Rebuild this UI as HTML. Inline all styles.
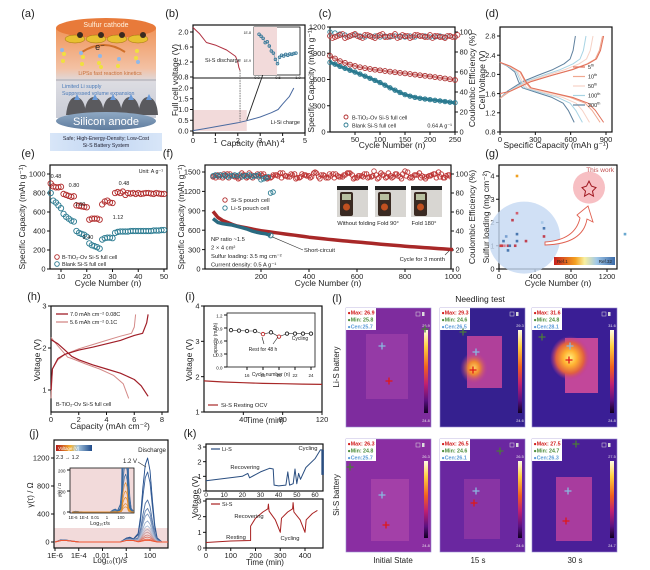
<!DOCTYPE html>
<html><head><meta charset="utf-8"><style>
html,body{margin:0;padding:0;background:#fff;}
svg{display:block;font-family:"Liberation Sans",Arial,sans-serif;}
</style></head><body>
<svg id="fig" width="650" height="570" viewBox="0 0 650 570" xmlns="http://www.w3.org/2000/svg">
<defs>
<linearGradient id="gA" x1="0" y1="0" x2="0" y2="1"><stop offset="0" stop-color="#f0955a"/><stop offset="0.45" stop-color="#f3c1a4"/><stop offset="0.6" stop-color="#dcdce2"/><stop offset="1" stop-color="#c9ccd6"/></linearGradient>
<linearGradient id="gAn" x1="0" y1="0" x2="0" y2="1"><stop offset="0" stop-color="#8fa9c4"/><stop offset="1" stop-color="#5f7c9e"/></linearGradient>
<linearGradient id="gCap" x1="0" y1="0" x2="1" y2="0"><stop offset="0" stop-color="#d8e6f8"/><stop offset="0.5" stop-color="#c2d6f2"/><stop offset="1" stop-color="#d8e6f8"/></linearGradient>
<linearGradient id="gBar" x1="0" y1="0" x2="0" y2="1"><stop offset="0" stop-color="#fffbe6"/><stop offset="0.2" stop-color="#ffd040"/><stop offset="0.45" stop-color="#f06020"/><stop offset="0.65" stop-color="#c02070"/><stop offset="0.85" stop-color="#5a1080"/><stop offset="1" stop-color="#100020"/></linearGradient>
<linearGradient id="gRef" x1="0" y1="0" x2="1" y2="0"><stop offset="0" stop-color="#c8201e"/><stop offset="0.35" stop-color="#f4a020"/><stop offset="0.5" stop-color="#f8f0a0"/><stop offset="0.7" stop-color="#a0c8e8"/><stop offset="1" stop-color="#3a6aa8"/></linearGradient>
<linearGradient id="gV" x1="0" y1="0" x2="1" y2="0"><stop offset="0" stop-color="#b01818"/><stop offset="0.4" stop-color="#f4b030"/><stop offset="0.6" stop-color="#a8c8e0"/><stop offset="1" stop-color="#1e4a8a"/></linearGradient>
<radialGradient id="hot1"><stop offset="0" stop-color="#ffd060"/><stop offset="0.4" stop-color="#f08a30"/><stop offset="1" stop-color="#c03a90" stop-opacity="0"/></radialGradient>
<radialGradient id="hot2"><stop offset="0" stop-color="#fff080"/><stop offset="0.35" stop-color="#ffb030"/><stop offset="0.7" stop-color="#e06040"/><stop offset="1" stop-color="#c03a90" stop-opacity="0"/></radialGradient>
<clipPath id="clipJin"><rect x="70" y="468" width="64" height="45"/></clipPath>
<clipPath id="clipBin"><rect x="254" y="27" width="46" height="48"/></clipPath>
<clipPath id="clipF"><rect x="205" y="165" width="246" height="104"/></clipPath>
</defs>
</svg>
<script>
// ---------- DATA ----------
const bDisCap=[0,0.3,0.6,1.0,1.5,1.9,2.0,2.05,2.1];
const bDisV=[2.12,1.95,1.72,1.65,1.52,1.35,1.2,1.05,0.98];
const bChCap=[0,0.5,1,2,2.4,3,3.5,3.8,4,4.3,4.5];
const bChV=[0.02,0.1,0.2,0.38,0.48,0.65,0.85,1.0,1.25,1.6,2.0];
const bInX=[0.05,0.1,0.15,0.2,0.25,0.3,0.35,0.4,0.45,0.5,0.55,0.6,0.65,0.7,0.75,0.8,0.85,0.9,0.95];
const bInY=[0.9,0.85,0.8,0.7,0.72,0.62,0.5,0.45,0.3,0.2,0.35,0.4,0.38,0.42,0.4,0.43,0.42,0.44,0.45];
const cCycles=[0,10,20,30,40,50,60,70,80,90,100,110,120,130,140,150,160,170,180,190,200,210,220,230,240,250];
const cRedCap=[870,840,810,790,770,755,740,730,720,712,705,697,690,683,676,670,663,656,649,642,635,628,620,612,603,595];
const cBlueCap=[795,775,750,728,706,685,662,638,614,590,565,535,505,478,452,427,410,396,385,377,370,362,355,348,341,335];
const cRedCE=[96,95,97,94,96,98,95,97,96,94,97,95,96,98,95,96,94,97,96,95,97,96,95,94,96,95];
const cBlueCE=[100,99,98,97,96,97,96,95,96,96,95,96,95,96,96,95,96,95,96,96,95,95,96,95,96,95];
const dLabels=['5th','10th','50th','100th','200th'];
const dDisCap=[880,850,760,700,630];
const dChCap=[880,870,790,730,640];
const dShapeF=[0,0.1,0.2,0.25,0.3,0.5,0.7,0.85,0.92,1.0];
const dShapeDisV=[2.25,2.17,2.05,1.85,1.72,1.62,1.52,1.4,1.25,1.0];
const dShapeChF=[0,0.1,0.3,0.5,0.7,0.85,0.93,0.97,1.0];
const dShapeChV=[1.5,1.65,1.85,1.98,2.1,2.22,2.32,2.5,2.8];
const eCycles=[6,7,8,9,10,11,12,13,14,15,16,17,18,19,20,21,22,23,24,25,26,27,28,29,30,31,32,33,34,35,36,37,38,39,40,41,42,43,44,45,46,47,48,49,50];
const eRed=[900,870,860,860,865,790,780,770,760,765,670,665,660,655,650,520,530,530,530,520,680,710,720,700,695,800,810,800,815,780,800,795,800,790,800,790,795,800,800,795,790,800,795,790,790];
const eBlue=[800,720,700,670,640,580,550,530,510,500,400,380,370,360,340,270,250,240,230,215,310,325,330,330,325,380,390,395,395,395,395,400,400,400,400,400,400,400,400,400,405,405,405,410,410];
const eRates=['0.48','0.80','1.60','2.40','1.12','0.48'];
const fCycles=[0,20,40,60,80,100,120,140,160,180,200,220,240,260,280,300,320,340,360,380,400,420,440,460,480,500,520,540,560,580,600,620,640,660,680,700,720,740,760,780,800,820,840,860,880,900,920,940,960,980,1000];
const fRedCap=[890,800,750,720,690,665,650,635,620,605,592,582,572,562,552,542,532,522,512,502,492,484,476,468,460,452,445,438,431,424,418,411,404,397,390,383,377,371,365,359,353,347,341,336,331,326,321,316,311,306,300];
const fRedCE=[97,99,96,100,98,97,101,96,99,98,100,97,96,99,101,98,97,100,96,99,98,101,97,99,96,100,98,97,101,99,96,98,100,97,99,101,96,98,100,97,103,96,99,101,97,98,100,102,96,99,98];
const fBlueCycles=[0,20,40,60,80,100,120,140,160,180,200,220,240];
const fBlueCap=[780,720,700,690,680,660,640,620,590,570,555,545,520];
const fBlueCE=[98,98,98,97,98,98,97,98,97,98,94,96,80];
const gCyc=[50,80,100,120,150,200,200,200,300,500,500,480,200,1400,30,60,100,180,20];
const gLoad=[1.2,1.4,1.0,1.0,2.1,2.4,1.5,1.2,1.2,1.75,1.4,2.0,4.0,1.5,1.0,1.0,0.8,1.0,1.0];
const gCol=['#4a78b0','#7aa0d0','#c04050','#4a78b0','#c04050','#d06070','#4a78b0','#4a78b0','#c04050','#4a78b0','#c04050','#a8c8e8','#f0a020','#6aa8d0','#c04050','#e08090','#4a78b0','#c04050','#d04040'];
const h7DisCap=[0,0.5,1,1.5,2,3,4,5,6,6.5,7];
const h7DisV=[2.2,2.1,1.95,1.8,1.72,1.6,1.5,1.4,1.25,1.1,0.85];
const h7ChCap=[0,0.1,0.5,1,2,3,4,5,6,6.6,6.9,7];
const h7ChV=[1.0,1.5,1.75,1.85,1.95,2.02,2.1,2.18,2.3,2.35,2.6,2.8];
const h5DisCap=[0,0.5,1.2,1.5,2.5,3.5,4.5,5.2,5.6];
const h5DisV=[2.25,2.05,1.78,1.75,1.62,1.5,1.35,1.15,0.8];
const h5ChCap=[0,0.1,0.5,1,2,3,4,5,5.8,6,6.1];
const h5ChV=[0.8,1.5,1.72,1.85,1.98,2.08,2.18,2.28,2.35,2.5,2.8];
const iTime=[0,20,40,60,80,100,120];
const iOCV=[1.88,1.85,1.83,1.81,1.8,1.79,1.78];
const iCyc=[14,15,16,17,18,19,20,21,22,23,24];
const iCap=[0.85,0.84,0.83,0.83,0.76,0.8,0.7,0.77,0.77,0.77,0.77];
const iRed=[false,false,false,false,true,false,true,false,false,false,false];
const jLogT=[-6,-5.5,-5,-4,-3,-2,-1,-0.5,0,0.3,0.6,1.0,1.2,1.4,1.6,1.8,2.0,2.2,2.4,2.6,3,3.5];
const jProfile=[0,0.01,0.005,0,0,0,0,0,0.03,0.04,0.02,0.1,0.3,0.65,0.92,1,0.85,0.5,0.2,0.05,0,0];
const jHeights=[1200,1000,600,480,400,300,230,180,140,100,70,40,25];
const kLiT=[0,10,20,23,24,30,35,37,37.5,40,44,45,46,48,49,50,51,52,55,60,63,64];
const kLiV=[0.7,0.85,1.0,1.2,0.9,1.3,1.55,1.5,0.4,0.35,0.4,1.3,0.4,0.5,1.5,0.5,1.2,0.8,1.6,2.2,2.8,2.8];
const kSiT=[0,50,100,180,180,200,230,250,252,255,280,300,305,330,350,352,355,380,400,405,430,450];
const kSiV=[0.35,0.4,0.45,0.48,1.4,1.9,2.3,2.5,2.8,2.35,1.8,1.0,1.9,2.3,2.5,2.9,2.3,1.8,1.0,1.8,2.2,2.4];
const lMax=['26.9','29.3','31.6','26.3','26.5','27.5'];
const lMin=['25.8','24.6','24.8','24.8','24.6','24.7'];
const lCen=['25.7','26.5','28.1','25.7','26.1','26.3'];
const lBot=['24.8','24.6','24.8','24.8','24.6','24.7'];

// ---------- HELPERS ----------
const NS='http://www.w3.org/2000/svg';
const svg=document.getElementById('fig');
function E(tag,a,name,p){const el=document.createElementNS(NS,tag);for(const k in a)el.setAttribute(k,a[k]);


(p||svg).appendChild(el);return el;}
function T(x,y,s,size,name,o){o=o||{};const el=E('text',{x:x,y:y,'font-size':size,fill:o.fill||'#222','text-anchor':o.anchor||'middle','font-weight':o.bold?'bold':'normal'},name,o.p);
if(o.html)el.innerHTML=s;else el.textContent=s;if(o.rot)el.setAttribute('transform','rotate('+o.rot+' '+x+' '+y+')');return el;}
function lin(d0,d1,r0,r1){return v=>r0+(v-d0)*(r1-r0)/(d1-d0);}
function line(xs,ys,sx,sy,stroke,w,name,extra){let d='';for(let i=0;i<xs.length;i++)d+=(i?'L':'M')+sx(xs[i]).toFixed(1)+','+sy(ys[i]).toFixed(1);
const a={d:d,fill:'none',stroke:stroke,'stroke-width':w,'stroke-linejoin':'round'};if(extra)Object.assign(a,extra);return E('path',a,name);}
function frame(x0,y0,x1,y1,name){return E('rect',{x:x0,y:y0,width:x1-x0,height:y1-y0,fill:'none',stroke:'#111','stroke-width':1.2},name);}
function yAx(sy,vals,labels,x,name,right,size){size=size||7.5;vals.forEach((v,i)=>{const y=sy(v);
E('line',{x1:x,x2:right?x+3:x-3,y1:y,y2:y,stroke:'#111','stroke-width':1},name+'-tick');
T(right?x+4.5:x-4.5,y+2.7,labels[i],size,name+'-label',{anchor:right?'start':'end'});});}
function xAx(sx,vals,labels,y,name,size){size=size||7.5;vals.forEach((v,i)=>{const x=sx(v);
E('line',{x1:x,x2:x,y1:y,y2:y+3,stroke:'#111','stroke-width':1},name+'-tick');
T(x,y+10,labels[i],size,name+'-label');});}
function circ(x,y,r,stroke,name,fill,p){return E('circle',{cx:x,cy:y,r:r,fill:fill||'none',stroke:stroke,'stroke-width':0.9},name,p);}

[['(a)',28,17],['(b)',172,17],['(c)',325,17],['(d)',492,17],['(e)',28,157],['(f)',168,157],['(g)',492,157],['(h)',34,300],['(i)',190,300],['(j)',34,437],['(k)',190,437],['(l)',337,302]].forEach(p=>{
T(p[1],p[2],p[0],11,'panel-label');});

// ---------- (a) ----------
E('rect',{x:56,y:28,width:100,height:90,fill:'url(#gA)'},'battery-body');
E('ellipse',{cx:106,cy:28,rx:50,ry:10,fill:'#e87a3a'},'sulfur-cathode-disc');
T(106,27,'Sulfur cathode',7,'sulfur-cathode-label',{fill:'#fff3e0'});
for(let i=0;i<4;i++){E('ellipse',{cx:75+i*21,cy:39,rx:10,ry:4,fill:'#e8c030',stroke:'#a07010','stroke-width':0.5},'sulfur-particle');
E('circle',{cx:80+i*21,cy:35,r:3,fill:'#3a2a20'},'carbon-host');}
E('path',{d:'M82,52 Q104,38 125,52',fill:'none',stroke:'#d0702a','stroke-width':2},'electron-arrow');
T(100,50,'e⁻',9,'electron-label',{fill:'#222'});
for(let i=0;i<14;i++){E('circle',{cx:62+((i*37)%92),cy:50+((i*13)%18),r:2,fill:i%3?'#f0e040':'#90b8e8'},'lips-molecule');}
T(110,75,'LiPSs fast reaction kinetics',5.3,'kinetics-label',{fill:'#c8703a'});
E('line',{x1:56,y1:80,x2:156,y2:80,stroke:'#b8b8c0','stroke-width':1.5},'separator');
T(62,88,'Limited Li supply',5.3,'li-supply-label',{fill:'#4a7ab8',anchor:'start'});
T(62,95,'Suppressed volume expansion',5.3,'volume-label',{fill:'#4a7ab8',anchor:'start'});
for(let i=0;i<5;i++){E('path',{d:'M'+(66+i*18)+',115 Q'+(68+i*18)+',97 '+(76+i*18)+',97 Q'+(85+i*18)+',98 '+(86+i*18)+',115Z',fill:'#5a5a5e'},'silicon-dome');
E('path',{d:'M'+(74+i*18)+',100 l3,-6 l3,6z',fill:'#6a9ad8'},'li-arrow');}
E('ellipse',{cx:106,cy:121,rx:50,ry:9,fill:'url(#gAn)'},'silicon-anode-disc');
T(106,125,'Silicon anode',11,'silicon-anode-label',{fill:'#fff'});
E('rect',{x:50,y:133,width:112,height:18,fill:'url(#gCap)'},'caption-box');
T(106,140,'Safe; High-Energy-Density; Low-Cost',5.2,'caption-line1',{fill:'#223'});
T(106,147,'Si-S Battery System',5.2,'caption-line2',{fill:'#223'});

// ---------- (b) ----------
(function(){
const sx=lin(0,5,193,305), syT=lin(0.8,2.0,77,32), syB=lin(0,2.0,131,88);
E('rect',{x:193,y:110,width:sx(2.4)-193,height:21,fill:'#f2dada'},'b-shaded-region');
frame(193,25,305,133,'b-frame');
E('line',{x1:193,x2:305,y1:78,y2:78,stroke:'#111','stroke-width':1},'b-divider');
yAx(syT,[0.8,1.2,1.6,2.0],['0.8','1.2','1.6','2.0'],193,'b-top-y');
yAx(syB,[0,0.5,1.0,1.5,2.0],['0.0','0.5','1.0','1.5','2.0'],193,'b-bottom-y');
xAx(sx,[0,1,2,3,4,5],['0','1','2','3','4','5'],133,'b-x');
line(bDisCap,bDisV,sx,syT,'#b03040',1,'b-si-s-discharge');
line(bChCap,bChV,sx,syB,'#4a6aa0',1,'b-li-si-charge');
E('line',{x1:sx(2.1),x2:sx(2.1),y1:syT(0.98),y2:syB(0.45),stroke:'#555','stroke-width':0.8,'stroke-dasharray':'1.5,1'},'b-dashed-line');
E('path',{d:'M'+sx(2.4)+','+syB(0.5)+' L268,60',stroke:'#222','stroke-width':0.9,fill:'none'},'b-arrow');
E('path',{d:'M268,58 l-3,4 l4,1z',fill:'#222'},'b-arrowhead');
T(205,62,'Si-S discharge',5.5,'b-discharge-label',{anchor:'start'});
T(300,124,'Li-Si charge',5.5,'b-charge-label',{anchor:'end'});
T(250,146,'Capacity (mAh)',8.5,'b-x-title');
T(178,80,'Full cell voltage (V)',8.5,'b-y-title',{rot:-90});
E('rect',{x:254,y:27,width:46,height:48,fill:'#fff',stroke:'#111','stroke-width':0.8},'b-inset-frame');
E('rect',{x:254,y:27,width:23,height:48,fill:'#f2dada'},'b-inset-shade');
const ix=lin(0,1,257,298), iy=lin(0,1,72,30);
const g=E('g',{'clip-path':'url(#clipBin)'},'b-inset-points');
bInX.forEach((v,i)=>{circ(ix(v),iy(bInY[i]),1.3,'#3a7a9a','b-inset-point',null,g);});
line(bInX,bInY,ix,iy,'#3a7a9a',0.5,'b-inset-line');
T(257,79,'0.0',4,'b-inset-xlabel');T(278,79,'0.5',4,'b-inset-xlabel');T(298,79,'1.0',4,'b-inset-xlabel');
T(251,34,'1E-8',3.5,'b-inset-ylabel',{anchor:'end'});T(251,62,'1E-9',3.5,'b-inset-ylabel',{anchor:'end'});
})();

// ---------- (c) ----------
(function(){
const sx=lin(0,250,330,455), sy=lin(0,1200,132,27), sr=lin(0,100,132,32);
frame(330,27,455,132,'c-frame');
yAx(sy,[0,300,600,900,1200],['0','300','600','900','1200'],330,'c-left-y');
yAx(sr,[0,20,40,60,80,100],['0','20','40','60','80','100'],455,'c-right-y',true);
xAx(sx,[50,100,150,200,250],['50','100','150','200','250'],132,'c-x');
cCycles.forEach((c,i)=>{circ(sx(c),sr(cBlueCE[i]),2.2,'#3a8aa0','c-blue-ce-point');});
cCycles.forEach((c,i)=>{circ(sx(c),sr(cRedCE[i]),2.4,'#b02a2a','c-red-ce-point');circ(sx(c)+2.5,sr(cRedCE[(i+3)%26]),2.4,'#c04040','c-red-ce-point');});
line(cCycles,cBlueCap,sx,sy,'#2a7a90',3,'c-blue-capacity-line');
cCycles.forEach((c,i)=>{circ(sx(c),sy(cBlueCap[i]),2.2,'#2a7a90','c-blue-capacity-point');});
line(cCycles,cRedCap,sx,sy,'#d08080',2,'c-red-capacity-line');
cCycles.forEach((c,i)=>{circ(sx(c),sy(cRedCap[i]),2.4,'#a82828','c-red-capacity-point');});
circ(346,117,2,'#b02a2a','c-legend-red-marker');T(352,119.5,'B-TiO₂-Ov Si-S full cell',5.5,'c-legend-red',{anchor:'start'});
circ(346,125,2,'#2a7a90','c-legend-blue-marker');T(352,127.5,'Blank Si-S full cell',5.5,'c-legend-blue',{anchor:'start'});
T(452,127.5,'0.64 A g⁻¹',5.5,'c-rate-label',{anchor:'end'});
T(392,148,'Cycle Number (n)',8.5,'c-x-title');
T(314,80,'Specific Capacity (mAh g⁻¹)',8.5,'c-y-title',{rot:-90});
T(475,80,'Coulombic Efficiency (%)',8.5,'c-y2-title',{rot:-90});
})();

// ---------- (d) ----------
(function(){
const sx=lin(0,900,500,606), sy=lin(0.8,2.8,132,36);
frame(500,27,612,132,'d-frame');
yAx(sy,[0.8,1.2,1.6,2.0,2.4,2.8],['0.8','1.2','1.6','2.0','2.4','2.8'],500,'d-y');
xAx(sx,[0,300,600,900],['0','300','600','900'],132,'d-x');
const cols=['#e0705a','#f0a890','#f6d2c6','#a8d4e4','#5f819e'];
for(let k=4;k>=0;k--){
line(dShapeF.map(f=>f*dDisCap[k]),dShapeDisV,sx,sy,cols[k],1,'d-discharge-'+dLabels[k]);
line(dShapeChF.map(f=>f*dChCap[k]),dShapeChV.map(v=>k===0&&v<1.6?1.6:v),sx,sy,cols[k],1,'d-charge-'+dLabels[k]);}
dLabels.forEach((l,i)=>{const y=67+i*9.5;E('line',{x1:573,x2:585,y1:y,y2:y,stroke:cols[i],'stroke-width':1.2},'d-legend-line');
T(588,y+2,l.replace(/th$/,'')+'<tspan dy="-2.5" font-size="3.8">th</tspan>',5.5,'d-legend-label',{anchor:'start',html:true});});
T(556,148,'Specific Capacity (mAh g⁻¹)',8.5,'d-x-title');
T(485,80,'Cell Voltage (V)',8.5,'d-y-title',{rot:-90});
})();

// ---------- (e) ----------
(function(){
const sx=lin(10,50,61,164), sy=lin(0,1000,269,174);
frame(50,165,167,269,'e-frame');
yAx(sy,[0,200,400,600,800,1000],['0','200','400','600','800','1000'],50,'e-y');
xAx(sx,[10,20,30,40,50],['10','20','30','40','50'],269,'e-x');
eCycles.forEach((c,i)=>{circ(sx(c),sy(eRed[i]),2.7,'#b02a2a','e-red-point');});
eCycles.forEach((c,i)=>{circ(sx(c),sy(eBlue[i]),2.7,'#2a7a90','e-blue-point');});
const rp=[[56,178],[74,187],[80,206],[88,239],[118,219],[124,185]];
eRates.forEach((r,i)=>{T(rp[i][0],rp[i][1],r,5.5,'e-rate-label');});
T(163,173,'Unit: A g⁻¹',5.3,'e-unit-label',{anchor:'end'});
circ(57,257,2.3,'#b02a2a','e-legend-red-marker');T(62,259,'B-TiO₂-Ov Si-S full cell',5.5,'e-legend-red',{anchor:'start'});
circ(57,264,2.3,'#2a7a90','e-legend-blue-marker');T(62,266,'Blank Si-S full cell',5.5,'e-legend-blue',{anchor:'start'});
T(108,286,'Cycle Number (n)',8.5,'e-x-title');
T(25,217,'Specific Capacity (mAh g⁻¹)',8.5,'e-y-title',{rot:-90});
})();

// ---------- (f) ----------
(function(){
const sx=lin(0,1000,213,453), sy=lin(0,1500,269,172), sr=lin(0,100,269,174);
frame(205,165,451,269,'f-frame');
yAx(sy,[0,300,600,900,1200,1500],['0','300','600','900','1200','1500'],205,'f-left-y');
yAx(sr,[0,20,40,60,80,100],['0','20','40','60','80','100'],451,'f-right-y',true);
xAx(sx,[200,400,600,800,1000],['200','400','600','800','1000'],269,'f-x');
const g=E('g',{'clip-path':'url(#clipF)'},'f-ce-points');
fCycles.forEach((c,i)=>{circ(sx(c),sr(fRedCE[i]),2.3,'#b82a2a','f-red-ce-point',null,g);circ(sx(c)+2.6,sr(fRedCE[(i+7)%51]),2.3,'#c03a3a','f-red-ce-point',null,g);circ(sx(c)+1.3,sr(fRedCE[(i+19)%51]-1),2.3,'#c03a3a','f-red-ce-point',null,g);});
fBlueCycles.forEach((c,i)=>{circ(sx(c),sr(fBlueCE[i]),2.3,'#2a7a90','f-blue-ce-point',null,g);circ(sx(c)+2.5,sr(Math.min(fBlueCE[i]+1,99)),2.3,'#2a7a90','f-blue-ce-point',null,g);});
line(fCycles,fRedCap,sx,sy,'#a82828',3.5,'f-red-capacity-line');
line(fBlueCycles,fBlueCap,sx,sy,'#2a6a80',3.5,'f-blue-capacity-line');
circ(sx(240),sy(520),2.5,'#2a7a90','f-short-circuit-point');
E('line',{x1:sx(245),y1:sy(500),x2:303,y2:250,stroke:'#333','stroke-width':0.6},'f-short-circuit-leader');
T(304,252,'Short-circuit',5.8,'f-short-circuit-label',{anchor:'start'});
E('line',{x1:445,y1:255,x2:449,y2:251,stroke:'#333','stroke-width':0.6},'f-month-leader');
T(445,261,'Cycle for 3 month',5.8,'f-month-label',{anchor:'end'});
circ(225,200,2.2,'#b02a2a','f-legend-red-marker');T(231,202,'Si-S pouch cell',5.8,'f-legend-red',{anchor:'start'});
circ(225,208,2.2,'#2a7a90','f-legend-blue-marker');T(231,210,'Li-S pouch cell',5.8,'f-legend-blue',{anchor:'start'});
['NP ratio ~1.5','2 × 4 cm²','Sulfur loading: 3.5 mg cm⁻²','Current density: 0.5 A g⁻¹'].forEach((s,i)=>{T(211,241+i*8.5,s,5.8,'f-condition-label',{anchor:'start'});});
[[337,186],[375,186],[411,186]].forEach((p,i)=>{E('rect',{x:p[0],y:p[1],width:31,height:31,fill:'#d8d6d2'},'f-photo');
E('rect',{x:p[0],y:p[1],width:31,height:4,fill:'#222'},'f-photo-top');
E('rect',{x:p[0]+3,y:p[1]+6,width:13,height:24,rx:2,fill:'#3a2a22'},'f-multimeter');
E('rect',{x:p[0]+5,y:p[1]+8,width:9,height:6,fill:'#b8c0a0'},'f-multimeter-screen');
E('circle',{cx:p[0]+9.5,cy:p[1]+21,r:3.5,fill:'#c05020'},'f-multimeter-dial');});
T(368,225,'Without folding Fold 90°',5.8,'f-photo-label');T(424,225,'Fold 180°',5.8,'f-photo-label');
T(328,286,'Cycle Number (n)',8.5,'f-x-title');
T(184,217,'Specific Capacity (mAh g⁻¹)',8.5,'f-y-title',{rot:-90});
T(475,217,'Coulombic Efficiency (%)',8.5,'f-y2-title',{rot:-90});
})();

// ---------- (g) ----------
(function(){
const sx=lin(0,1200,499,607), sy=lin(0,4,269,176);
frame(499,165,617,269,'g-frame');
yAx(sy,[0,1,2,3,4],['0','1','2','3','4'],499,'g-y');
xAx(sx,[0,400,800,1200],['0','400','800','1200'],269,'g-x');
E('ellipse',{cx:sx(280),cy:sy(1.35),rx:36,ry:36,fill:'#c4d8f2',opacity:0.8},'g-literature-ellipse');
E('circle',{cx:sx(1000),cy:sy(3.5),r:16,fill:'#f6b8bc',opacity:0.9},'g-this-work-circle');
gCyc.forEach((c,i)=>{E('rect',{x:sx(c)-1.3,y:sy(gLoad[i])-1.3,width:2.6,height:2.6,fill:gCol[i]},'g-literature-point');});
E('path',{d:'M'+(sx(1000)-7)+','+sy(3.5)+' l4.5,-1.5 l2.5,-5 l2.5,5 l4.5,1.5 l-3.5,3.5 l1,5 l-4.5,-2.5 l-4.5,2.5 l1,-5z',fill:'none',stroke:'#a01820','stroke-width':1},'g-this-work-star');
E('path',{d:'M545,242 Q575,240 580,218 L577,215 L588,206 L593,222 L587,219 Q583,244 545,245Z',fill:'#fff',stroke:'#e06050','stroke-width':0.9},'g-arrow');
T(614,172,'This work',6.5,'g-this-work-label',{fill:'#c05050',anchor:'end'});
E('rect',{x:554,y:257,width:61,height:8,fill:'url(#gRef)'},'g-ref-colorbar');
T(557,263,'Ref.1',4.5,'g-ref1-label',{anchor:'start'});T(612,263,'Ref.32',4.5,'g-ref32-label',{anchor:'end'});
T(558,286,'Cycle Number (n)',8.5,'g-x-title');
T(489,217,'Sulfur loading (mg cm⁻²)',8.5,'g-y-title',{rot:-90});
})();

// ---------- (h) ----------
(function(){
const sx=lin(0,8,51,162), sy=lin(1,3,390,306);
frame(51,306,168,412,'h-frame');
yAx(sy,[1,2,3],['1','2','3'],51,'h-y');
xAx(sx,[0,2,4,6,8],['0','2','4','6','8'],412,'h-x');
line(h5DisCap,h5DisV,sx,sy,'#d48a88',1,'h-5.6-discharge');line(h5ChCap,h5ChV,sx,sy,'#d48a88',1,'h-5.6-charge');
line(h7DisCap,h7DisV,sx,sy,'#a01e28',1.2,'h-7.0-discharge');line(h7ChCap,h7ChV,sx,sy,'#a01e28',1.2,'h-7.0-charge');
E('line',{x1:56,x2:68,y1:314,y2:314,stroke:'#a01e28','stroke-width':1.3},'h-legend-line');T(70,316,'7.0 mAh cm⁻² 0.08C',5.5,'h-legend-label',{anchor:'start'});
E('line',{x1:56,x2:68,y1:322,y2:322,stroke:'#d48a88','stroke-width':1.3},'h-legend-line');T(70,324,'5.6 mAh cm⁻² 0.1C',5.5,'h-legend-label',{anchor:'start'});
T(56,406,'B-TiO₂-Ov Si-S full cell',5.5,'h-cell-label',{anchor:'start'});
T(110,429,'Capacity (mAh cm⁻²)',8.5,'h-x-title');
T(40,360,'Voltage (V)',8.5,'h-y-title',{rot:-90});
})();

// ---------- (i) ----------
(function(){
const sx=lin(0,120,204,322), sy=lin(1,4,412,306);
frame(204,306,322,412,'i-frame');
yAx(sy,[1,2,3,4],['1','2','3','4'],204,'i-y');
xAx(sx,[40,80,120],['40','80','120'],412,'i-x');
line(iTime,iOCV,sx,sy,'#a82828',1.2,'i-ocv-line');
E('line',{x1:208,x2:218,y1:405,y2:405,stroke:'#a82828','stroke-width':1.2},'i-legend-line');T(221,407,'Si-S Resting OCV',5.8,'i-legend-label',{anchor:'start'});
T(265,423,'Time (min)',8,'i-x-title');
T(192,360,'Voltage (V)',8.5,'i-y-title',{rot:-90});
const ix=lin(13.5,24.5,227,315), iy=lin(0,1.2,367,315);
E('rect',{x:227,y:313,width:88,height:54,fill:'#fff',stroke:'#111','stroke-width':0.8},'i-inset-frame');
yAx(iy,[0,0.3,0.6,0.9,1.2],['0.0','0.3','0.6','0.9','1.2'],227,'i-inset-y',false,4.5);
xAx(ix,[16,18,20,22,24],['16','18','20','22','24'],367,'i-inset-x',4.5);
line(iCyc,iCap,ix,iy,'#333',0.6,'i-inset-line');
iCyc.forEach((c,i)=>{circ(ix(c),iy(iCap[i]),1.7,iRed[i]?'#c03030':'#222','i-inset-point','#fff');});
T(263,351,'Rest for 48 h',5,'i-rest-label');T(300,340,'Cycling',5,'i-cycling-label');
T(271,376,'Cycle number (n)',5,'i-inset-x-title');T(217,340,'Capacity (mAh)',5,'i-inset-y-title',{rot:-90});
E('line',{x1:262,y1:337,x2:264,y2:344,stroke:'#222','stroke-width':0.6},'i-rest-arrow');
E('line',{x1:278,y1:337,x2:273,y2:344,stroke:'#222','stroke-width':0.6},'i-rest-arrow');
})();

// ---------- (j) ----------
(function(){
const sx=lin(-6,2,55,150), sy=lin(0,1200,542,458);
E('rect',{x:54,y:sy(200),width:114,height:542-sy(200)+6,fill:'#f2dada'},'j-shaded-band');
frame(54,440,168,548,'j-frame');
yAx(sy,[0,400,800,1200],['0','400','800','1200'],54,'j-y');
xAx(lin(-6,2,55,150),[-6,-4,-2,0,2],['1E-6','1E-4','0.01','1','100'],548,'j-x');
const n=jHeights.length;
jHeights.forEach((h,k)=>{const t=k/(n-1);const col=t<0.5?'rgb('+Math.round(30+t*2*150)+','+Math.round(74+t*2*120)+','+Math.round(138+t*2*80)+')':'rgb('+Math.round(180+(t-0.5)*2*60)+','+Math.round(194-(t-0.5)*2*110)+','+Math.round(218-(t-0.5)*2*170)+')';
line(jLogT,jProfile.map(p=>p*h+(p>0&&p<0.05?20:0)),sx,sy,col,0.9,'j-drt-curve');});
E('rect',{x:70,y:468,width:64,height:45,fill:'#f2dada',stroke:'#111','stroke-width':0.8},'j-inset-frame');
const ix=lin(-6,3,72,134), iy=lin(0,200,512,470);
const g=E('g',{'clip-path':'url(#clipJin)'},'j-inset-curves');
jHeights.forEach((h,k)=>{const t=k/(n-1);const el=line(jLogT,jProfile.map(p=>p*h*(p>0.5?1:0.3)),ix,iy,t<0.6?'#3a6aa0':'#e09030',0.7,'j-inset-curve');g.appendChild(el);});
yAx(iy,[0,100,200],['0','100','200'],70,'j-inset-y',false,4.5);
[['1E-6',73],['1E-4',84],['0.01',95],['1',107],['100',121]].forEach(p=>{T(p[1],519,p[0],4.3,'j-inset-x-label');});
T(100,525,'Log₁₀τ/s',5.5,'j-inset-x-title');T(61,490,'γ(τ) / Ω',4.5,'j-inset-y-title',{rot:-90});
E('rect',{x:56,y:445,width:36,height:6,fill:'url(#gV)'},'j-voltage-colorbar');
T(58,450,'Voltage (V)',4.3,'j-colorbar-label',{anchor:'start',fill:'#fff'});
T(56,459,'2.3 → 1.2',5.3,'j-voltage-range',{anchor:'start'});
T(166,452,'Discharge',6.2,'j-discharge-label',{anchor:'end'});
T(130,463,'1.2 V',6,'j-1.2v-label');E('line',{x1:138,y1:462,x2:146,y2:467,stroke:'#333','stroke-width':0.6},'j-1.2v-arrow');
T(110,563,'Log₁₀(τ)/s',8,'j-x-title');
T(33,495,'γ(τ) / Ω',8,'j-y-title',{rot:-90});
})();

// ---------- (k) ----------
(function(){
const sxT=lin(0,60,206,315), syT=lin(0,3,491,447);
const sxB=lin(0,400,206,305), syB=lin(0,3,548,501);
frame(206,444,323,491,'k-top-frame');frame(206,499,323,548,'k-bottom-frame');
yAx(syT,[0,1,2,3],['0','1','2','3'],206,'k-top-y');
yAx(syB,[0,1,2,3],['0','1','2','3'],206,'k-bottom-y');
[0,10,20,30,40,50,60].forEach(v=>{T(sxT(v),497,String(v),6.5,'k-top-x-label');});
xAx(sxB,[0,100,200,300,400],['0','100','200','300','400'],548,'k-bottom-x');
line(kLiT,kLiV,sxT,syT,'#2a4e80',1,'k-li-s-line');
E('rect',{x:sxT(63.5),y:syT(2.8),width:2.5,height:syT(1.1)-syT(2.8),fill:'#2a4e80'},'k-li-s-cycling-block');
line(kSiT,kSiV,sxB,syB,'#a82020',1,'k-si-s-line');
E('line',{x1:211,x2:220,y1:449,y2:449,stroke:'#2a4e80','stroke-width':1.2},'k-legend-li');T(222,451,'Li-S',5.5,'k-legend-li-label',{anchor:'start'});
E('line',{x1:211,x2:220,y1:504,y2:504,stroke:'#a82020','stroke-width':1.2},'k-legend-si');T(222,506,'Si-S',5.5,'k-legend-si-label',{anchor:'start'});
T(245,469,'Recovering',5.8,'k-top-recovering');T(308,450,'Cycling',5.8,'k-top-cycling');
T(249,518,'Recovering',5.8,'k-bottom-recovering');T(236,539,'Resting',5.8,'k-resting');T(290,540,'Cycling',5.8,'k-bottom-cycling');
T(265,565,'Time (min)',8,'k-x-title');
T(198,497,'Voltage (V)',8.5,'k-y-title',{rot:-90});
})();

// ---------- (l) ----------
(function(){
T(480,302,'Needling test',8.5,'l-title');
T(339,367,'Li-S battery',8,'l-row-label-lis',{rot:-90});
T(339,495,'Si-S battery',8,'l-row-label-sis',{rot:-90});
T(393,563,'Initial State',8,'l-col-label');T(478,563,'15 s',8,'l-col-label');T(575,563,'30 s',8,'l-col-label');
const X=[346,440,532], Y=[308,439], W=85, H=[119,113];
const bg=['#7e2c9e','#35208f','#3a1e95','#8a2ea2','#6a27a0','#4a1f98'];
const pouch=['#953aa6','#b0409a','#c2479a','#a340a8','#8834a4','#a83c9e'];
const hot=[null,'hot1','hot2',null,null,null];
const crossB=[[36,38],[36,44],[38,38],[36,56],[36,52],[36,52]];
const crossR=[[43,73],[33,62],[37,52],[40,86],[34,64],[34,82]];
const crossG=[[79,21],[23,24],[10,29],[4,28],[60,12],[44,5]];
const pouchR=[[20,26,42,65],[27,28,35,52],[33,30,33,55],[25,40,38,62],[24,40,36,60],[24,38,36,64]];
for(let r=0;r<2;r++)for(let c=0;c<3;c++){const k=r*3+c,x=X[c],y=Y[r],h=H[r];
E('rect',{x:x,y:y,width:W,height:h,fill:bg[k],stroke:'#9a8ad0','stroke-width':0.6},'l-thermal-image');
const pr=pouchR[k];E('rect',{x:x+pr[0],y:y+pr[1],width:pr[2],height:pr[3],fill:pouch[k]},'l-pouch-cell');
if(hot[k]){E('ellipse',{cx:x+crossR[k][0]+1,cy:y+crossR[k][1]-2,rx:k===2?20:14,ry:k===2?22:16,fill:'url(#'+hot[k]+')'},'l-hotspot');}
E('rect',{x:x+78,y:y+22,width:4,height:h-36,fill:'url(#gBar)'},'l-colorbar');
T(x+80,y+19,lMax[k],3.8,'l-colorbar-max',{fill:'#eee'});T(x+80,y+h-5,lBot[k],3.8,'l-colorbar-min',{fill:'#eee'});
E('rect',{x:x+70,y:y+4,width:4,height:4,fill:'none',stroke:'#ddd','stroke-width':0.5},'l-icon');E('rect',{x:x+76,y:y+4,width:2.5,height:4,fill:'#ddd'},'l-battery-icon');
E('rect',{x:x,y:y,width:30,height:22,fill:'#fff'},'l-readout-box');
T(x+1.5,y+6.5,'●Max: '+lMax[k],5.3,'l-max-readout',{fill:'#d01818',anchor:'start',bold:true});
T(x+1.5,y+13.5,'●Min: '+lMin[k],5.3,'l-min-readout',{fill:'#4a8a3a',anchor:'start',bold:true});
T(x+1.5,y+20.5,'●Cen:'+lCen[k],5.3,'l-cen-readout',{fill:'#5a9ad8',anchor:'start',bold:true});
[[crossB[k],'#8ab8e0','l-center-cross'],[crossR[k],'#e01818','l-max-cross'],[crossG[k],'#4a7a3a','l-min-cross']].forEach(q=>{const cx=x+q[0][0],cy=y+q[0][1];
E('path',{d:'M'+(cx-3.5)+','+cy+'h7M'+cx+','+(cy-3.5)+'v7',stroke:q[1],'stroke-width':1.3},q[2]);});
}
})();
</script>
</body></html>
